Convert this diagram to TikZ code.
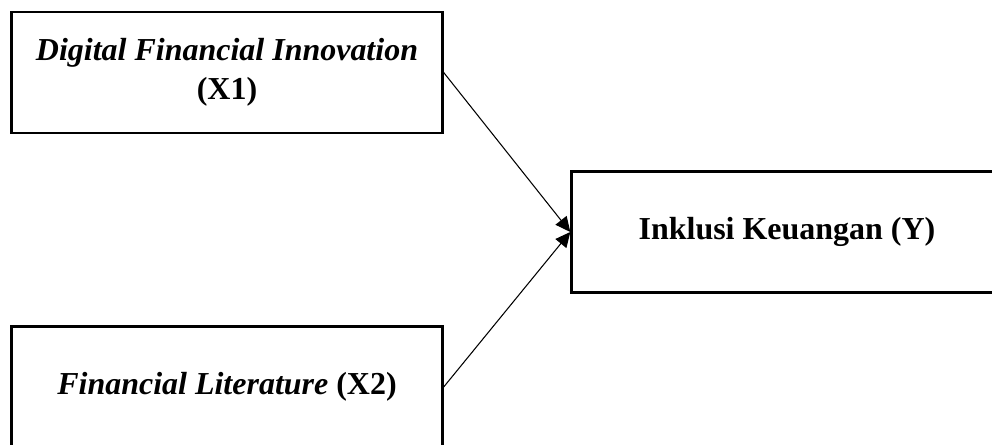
\documentclass[tikz,border=0pt]{standalone}
\usepackage{fontspec}
\setmainfont{Liberation Serif}
\usetikzlibrary{arrows.meta,positioning}

\begin{document}
\begin{tikzpicture}[x=0.02cm,y=-0.02cm,
    varbox/.style={draw,line width=1.4pt,rectangle,inner sep=0pt,
      minimum width=8.62cm,minimum height=2.42cm,align=center,
      font=\fontsize{18.2}{22}\selectfont\bfseries},
    link/.style={line width=0.6pt,-{Triangle[length=8.5pt,width=8pt]}}]
  \useasboundingbox (0,0) rectangle (992,445);

  % independent variables
  \node[varbox] (x1) at (227,72.5) {\textit{Digital Financial Innovation}\\(X1)};
  \node[varbox] (x2) at (227,387) {\textit{Financial Literature} (X2)};

  % dependent variable
  \node[varbox] (y) at (787,232) {Inklusi Keuangan (Y)};

  % paths
  \draw[link] (x1.east) -- (y.west);
  \draw[link] (x2.east) -- (y.west);
\end{tikzpicture}
\end{document}
